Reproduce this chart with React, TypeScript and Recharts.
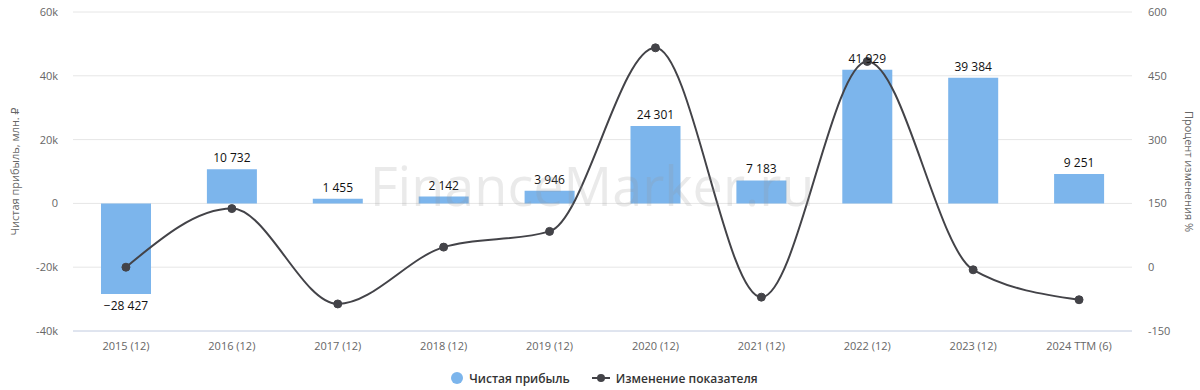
import React from "react";
import {
  ComposedChart,
  Bar,
  Line,
  XAxis,
  YAxis,
  CartesianGrid,
  Legend,
  LabelList,
} from "recharts";

const categories = [
  "2015 (12)",
  "2016 (12)",
  "2017 (12)",
  "2018 (12)",
  "2019 (12)",
  "2020 (12)",
  "2021 (12)",
  "2022 (12)",
  "2023 (12)",
  "2024 TTM (6)",
];
const profit = [-28427, 10732, 1455, 2142, 3946, 24301, 7183, 41929, 39384, 9251];
const changePct = [0, 137.8, -86.4, 47.2, 84.2, 515.8, -70.4, 483.7, -6.1, -76.5];
const leftTicks = [-40000, -20000, 0, 20000, 40000, 60000];
const rightTicks = [-150, 0, 150, 300, 450, 600];

const data = categories.map((c, i) => ({ name: c, profit: profit[i], change: changePct[i] }));

const FONT = "'Open Sans', 'DejaVu Sans', sans-serif";
const BAR_COLOR = "#7cb5ec";
const LINE_COLOR = "#434348";

const fmtNum = (v: number) => {
  const s = Math.abs(Math.round(v)).toString().replace(/\B(?=(\d{3})+(?!\d))/g, " ");
  return v < 0 ? "−" + s : s;
};
const fmtK = (v: number) => (v === 0 ? "0" : v / 1000 + "k");

const BarLabel = (props: any) => {
  const { x, y, width, height, value } = props;
  const top = Math.min(y, y + height);
  const bottom = Math.max(y, y + height);
  const cx = x + width / 2;
  const ty = value < 0 ? bottom + 16 : top - 7;
  return (
    <text x={cx} y={ty} textAnchor="middle" fontSize={12} fill="#111" fontFamily={FONT}>
      {fmtNum(value)}
    </text>
  );
};

const LegendContent = () => (
  <div
    style={{
      height: 24,
      display: "flex",
      justifyContent: "center",
      alignItems: "center",
      fontFamily: FONT,
      fontSize: 12,
      fontWeight: 600,
      color: "#333",
      paddingLeft: 8,
    }}
  >
    <svg width={14} height={14} style={{ marginRight: 5 }}>
      <circle cx={7} cy={7} r={6} fill={BAR_COLOR} />
    </svg>
    <span style={{ marginRight: 22 }}>Чистая прибыль</span>
    <svg width={18} height={14} style={{ marginRight: 6 }}>
      <line x1={0} y1={7} x2={18} y2={7} stroke={LINE_COLOR} strokeWidth={2} />
      <circle cx={9} cy={7} r={4} fill={LINE_COLOR} />
    </svg>
    <span>Изменение показателя</span>
  </div>
);

export default function App() {
  return (
    <div style={{ position: "absolute", left: 0, top: 0, width: 1200, height: 390, background: "#fff" }}>
      <ComposedChart
        width={1200}
        height={390}
        data={data}
        margin={{ top: 12, right: 0, bottom: 0, left: 0 }}
        barCategoryGap="26%"
      >
        <CartesianGrid vertical={false} stroke="#e6e6e6" yAxisId="left" />
        <XAxis
          dataKey="name"
          height={35}
          tickSize={0}
          tickMargin={11}
          tickLine={false}
          axisLine={{ stroke: "#ccd6eb" }}
          tick={{ fontSize: 11, fill: "#666", fontFamily: FONT }}
          interval={0}
        />
        <YAxis
          yAxisId="left"
          width={73}
          domain={[-40000, 60000]}
          ticks={leftTicks}
          tickFormatter={fmtK}
          tickSize={0}
          tickMargin={15}
          tickLine={false}
          axisLine={false}
          tick={{ fontSize: 11, fill: "#666", fontFamily: FONT }}
          label={{
            value: "Чистая прибыль, млн. ₽",
            angle: -90,
            position: "insideLeft",
            offset: 15,
            style: { textAnchor: "middle", fontSize: 11, fill: "#666", fontFamily: FONT },
          }}
        />
        <YAxis
          yAxisId="right"
          orientation="right"
          width={68}
          domain={[-150, 600]}
          ticks={rightTicks}
          tickSize={0}
          tickMargin={16}
          tickLine={false}
          axisLine={false}
          tick={{ fontSize: 11, fill: "#666", fontFamily: FONT, textAnchor: "start" }}
          label={{
            value: "Процент изменения %",
            angle: 90,
            position: "insideRight",
            offset: 11,
            style: { textAnchor: "middle", fontSize: 11, fill: "#666", fontFamily: FONT },
          }}
        />
        <Legend verticalAlign="bottom" height={24} content={<LegendContent />} />
        <Bar yAxisId="left" dataKey="profit" fill={BAR_COLOR} barSize={50} isAnimationActive={false}>
          <LabelList dataKey="profit" content={<BarLabel />} />
        </Bar>
        <Line
          yAxisId="right"
          type="monotone"
          dataKey="change"
          stroke={LINE_COLOR}
          strokeWidth={2}
          dot={{ r: 4, fill: LINE_COLOR, stroke: LINE_COLOR, strokeWidth: 1 }}
          isAnimationActive={false}
        />
      </ComposedChart>
      <div
        style={{
          position: "absolute",
          left: 0,
          width: 1184,
          top: 148,
          textAlign: "center",
          fontFamily: FONT,
          fontSize: 54,
          color: "rgba(150,150,150,0.2)",
          pointerEvents: "none",
        }}
      >
        FinanceMarker.ru
      </div>
    </div>
  );
}
